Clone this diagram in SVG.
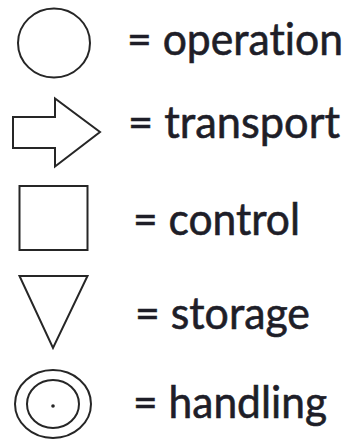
<svg xmlns="http://www.w3.org/2000/svg" width="351" height="442" viewBox="0 0 351 442">
<style>
.sym{fill:none;stroke:#262626;stroke-width:2}
.lbl{font-family:Lato,"Open Sans","Liberation Sans",sans-serif;font-size:44px;fill:#1e1e28;stroke:#1e1e28;stroke-width:0.6;font-variant-ligatures:none}
</style>
<rect width="351" height="442" fill="#ffffff"/>
<g id="operation">
<ellipse class="sym" cx="54" cy="43" rx="36" ry="34.5"/>
<text class="lbl" x="127" y="55" textLength="216" lengthAdjust="spacingAndGlyphs">= operation</text>
</g>
<g id="transport">
<polygon class="sym" points="13,117 55,117 55,98.5 100,132 55,166.5 55,148 13,148"/>
<text class="lbl" x="128" y="138" textLength="212" lengthAdjust="spacingAndGlyphs">= transport</text>
</g>
<g id="control">
<rect class="sym" x="19.5" y="186" width="68" height="64"/>
<text class="lbl" x="133" y="235" textLength="167" lengthAdjust="spacingAndGlyphs">= control</text>
</g>
<g id="storage">
<polygon class="sym" points="19.5,276 87.5,276 53,348"/>
<text class="lbl" x="135" y="329" textLength="175" lengthAdjust="spacingAndGlyphs">= storage</text>
</g>
<g id="handling">
<ellipse class="sym" cx="53" cy="404" rx="38" ry="34"/>
<ellipse class="sym" cx="53" cy="404" rx="26" ry="24"/>
<circle cx="53" cy="406" r="1.8" fill="#262626"/>
<text class="lbl" x="133" y="418" textLength="194" lengthAdjust="spacingAndGlyphs">= handling</text>
</g>
</svg>
